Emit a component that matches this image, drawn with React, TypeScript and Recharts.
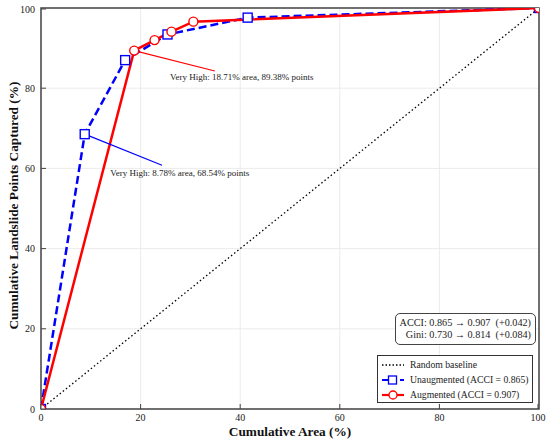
import React from 'react';

import {
  CartesianGrid,
  Line,
  LineChart,
  ReferenceArea,
  ReferenceDot,
  ReferenceLine,
  XAxis,
  YAxis,
} from 'recharts';

// cumulative curves (% of area vs % of landslide points)
const unaugArea = [0, 8.78, 16.9, 25.4, 41.5, 100];
const unaugPoints = [0, 68.54, 87.0, 93.4, 97.6, 100];
const augArea = [0, 18.71, 22.8, 26.2, 30.6, 100];
const augPoints = [0, 89.38, 92.0, 94.1, 96.6, 100];
const baseArea = [0, 100];
const basePoints = [0, 100];

const areaTicks = [0, 20, 40, 60, 80, 100];
const pointTicks = [0, 20, 40, 60, 80, 100];

const unaugLabel = 'Very High: 8.78% area, 68.54% points';
const augLabel = 'Very High: 18.71% area, 89.38% points';

const toRows = (xs: number[], ys: number[]) =>
  xs.map((x, i) => ({ area: x, points: ys[i] }));

const unaugData = toRows(unaugArea, unaugPoints);
const augData = toRows(augArea, augPoints);
const baseData = toRows(baseArea, basePoints);

const FONT = '"Liberation Serif", "DejaVu Serif", serif';
const BLUE = '#0000ff';
const RED = '#ff0000';
const SPINE = '#444';

const XTick = (props: any) => {
  const { x, y, payload } = props;
  return (
    <g>
      <line x1={x} y1={y} x2={x} y2={y - 5} stroke={SPINE} strokeWidth={1} />
      <text
        x={x}
        y={y + 12}
        textAnchor="middle"
        fontFamily={FONT}
        fontSize={10}
        fill="#222"
      >
        {payload.value}
      </text>
    </g>
  );
};

const YTick = (props: any) => {
  const { x, y, payload } = props;
  return (
    <g>
      <line x1={x} y1={y} x2={x + 5} y2={y} stroke={SPINE} strokeWidth={1} />
      <text
        x={x - 6}
        y={y}
        dy="0.35em"
        textAnchor="end"
        fontFamily={FONT}
        fontSize={10}
        fill="#222"
      >
        {payload.value}
      </text>
    </g>
  );
};

const Square = (props: any) => {
  const { cx, cy, index } = props;
  if (cx == null || cy == null) return <g key={index} />;
  return (
    <rect
      key={index}
      x={cx - 4.5}
      y={cy - 4.5}
      width={9}
      height={9}
      fill="#fff"
      stroke={BLUE}
      strokeWidth={1.4}
    />
  );
};

const noteText = (value: string) => (p: any) => {
  const vb = p.viewBox || {};
  return (
    <text
      x={vb.x}
      y={vb.y}
      dy="0.35em"
      textAnchor="start"
      fontFamily={FONT}
      fontSize={9}
      fill="#222"
    >
      {value}
    </text>
  );
};

const legendRows = [
  { name: 'Random baseline', color: '#000', dash: '1.5 2', marker: 'none', width: 1.3 },
  { name: 'Unaugmented (ACCI = 0.865)', color: BLUE, dash: '6 3', marker: 'square', width: 2.2 },
  { name: 'Augmented (ACCI = 0.907)', color: RED, dash: undefined, marker: 'circle', width: 2.2 },
];

function Legend() {
  return (
    <div
      style={{
        position: 'absolute',
        left: 377,
        top: 355,
        width: 156,
        height: 48,
        border: '1px solid #333',
        background: '#fff',
        fontFamily: FONT,
        fontSize: 9.7,
        color: '#222',
        boxSizing: 'border-box',
        paddingTop: 1,
        whiteSpace: 'nowrap',
        overflow: 'hidden',
      }}
    >
      {legendRows.map((r) => (
        <div
          key={r.name}
          style={{ display: 'flex', alignItems: 'center', height: 15 }}
        >
          <svg width={29} height={12} style={{ marginLeft: 3, flexShrink: 0 }}>
            <line
              x1={1}
              y1={6}
              x2={23}
              y2={6}
              stroke={r.color}
              strokeWidth={r.width}
              strokeDasharray={r.dash}
            />
            {r.marker === 'square' && (
              <rect x={7.5} y={2} width={8} height={8} fill="#fff" stroke={BLUE} strokeWidth={1.3} />
            )}
            {r.marker === 'circle' && (
              <circle cx={12} cy={6} r={4} fill="#fff" stroke={RED} strokeWidth={1.3} />
            )}
          </svg>
          <span>{r.name}</span>
        </div>
      ))}
    </div>
  );
}

function StatsBox() {
  return (
    <div
      style={{
        position: 'absolute',
        left: 395,
        top: 313,
        width: 141,
        height: 32,
        border: '1px solid #444',
        borderRadius: 5,
        background: '#fff',
        fontFamily: FONT,
        fontSize: 10.2,
        lineHeight: '12px',
        color: '#222',
        textAlign: 'right',
        boxSizing: 'border-box',
        padding: '3px 4px 0 0',
        whiteSpace: 'pre',
      }}
    >
      <div>{'ACCI: 0.865 \u2192 0.907  (+0.042)'}</div>
      <div>{'Gini: 0.730 \u2192 0.814  (+0.084)'}</div>
    </div>
  );
}

export default function App() {
  return (
    <div
      style={{
        position: 'absolute',
        left: 0,
        top: 0,
        width: 550,
        height: 443,
        background: '#fff',
      }}
    >
      <LineChart
        width={550}
        height={443}
        margin={{ top: 8, right: 11, left: 0, bottom: 0 }}
      >
        <CartesianGrid stroke="#e6e6e6" strokeWidth={0.8} />
        <XAxis
          dataKey="area"
          type="number"
          domain={[0, 100]}
          ticks={areaTicks}
          allowDataOverflow
          height={34}
          tickLine={false}
          tickSize={0}
          tickMargin={0}
          axisLine={false}
          tick={<XTick />}
          label={(p: any) => {
            const vb = p.viewBox;
            return (
              <text
                x={vb.x + vb.width / 2}
                y={436}
                textAnchor="middle"
                fontFamily={FONT}
                fontWeight="bold"
                fontSize={13.3}
                fill="#111"
              >
                Cumulative Area (%)
              </text>
            );
          }}
        />
        <YAxis
          dataKey="points"
          type="number"
          domain={[0, 100]}
          ticks={pointTicks}
          allowDataOverflow
          width={41}
          tickLine={false}
          tickSize={0}
          tickMargin={0}
          axisLine={false}
          tick={<YTick />}
          label={(p: any) => {
            const vb = p.viewBox;
            const cx = 13;
            const cy = vb.y + vb.height / 2 - 3;
            return (
              <text
                x={cx}
                y={cy}
                dy="0.35em"
                transform={`rotate(-90 ${cx} ${cy})`}
                textAnchor="middle"
                fontFamily={FONT}
                fontWeight="bold"
                fontSize={13.3}
                fill="#111"
              >
                Cumulative Landslide Points Captured (%)
              </text>
            );
          }}
        />
        <Line
          data={baseData}
          dataKey="points"
          stroke="#000"
          strokeWidth={1.3}
          strokeDasharray="1.5 2.5"
          dot={false}
          activeDot={false}
          isAnimationActive={false}
        />
        <Line
          data={unaugData}
          dataKey="points"
          stroke={BLUE}
          strokeWidth={2.5}
          strokeDasharray="8 4"
          dot={<Square />}
          activeDot={false}
          isAnimationActive={false}
        />
        <Line
          data={augData}
          dataKey="points"
          stroke={RED}
          strokeWidth={2.5}
          dot={{ r: 4.5, fill: '#fff', stroke: RED, strokeWidth: 1.4 }}
          activeDot={false}
          isAnimationActive={false}
        />
        <ReferenceLine
          segment={[
            { x: unaugArea[1], y: unaugPoints[1] },
            { x: 24.3, y: 60.8 },
          ]}
          stroke={BLUE}
          strokeWidth={1.2}
          ifOverflow="visible"
        />
        <ReferenceLine
          segment={[
            { x: augArea[1], y: augPoints[1] },
            { x: 34.9, y: 84.3 },
          ]}
          stroke={RED}
          strokeWidth={1.2}
          ifOverflow="visible"
        />
        <ReferenceDot
          x={13.9}
          y={58.9}
          r={0}
          stroke="none"
          fill="none"
          ifOverflow="visible"
          label={noteText(unaugLabel)}
        />
        <ReferenceDot
          x={25.9}
          y={82.8}
          r={0}
          stroke="none"
          fill="none"
          ifOverflow="visible"
          label={noteText(augLabel)}
        />
        <ReferenceArea
          x1={0}
          x2={100}
          y1={0}
          y2={100}
          fill="none"
          stroke={SPINE}
          strokeWidth={1.5}
          ifOverflow="visible"
        />
      </LineChart>
      <StatsBox />
      <Legend />
    </div>
  );
}
